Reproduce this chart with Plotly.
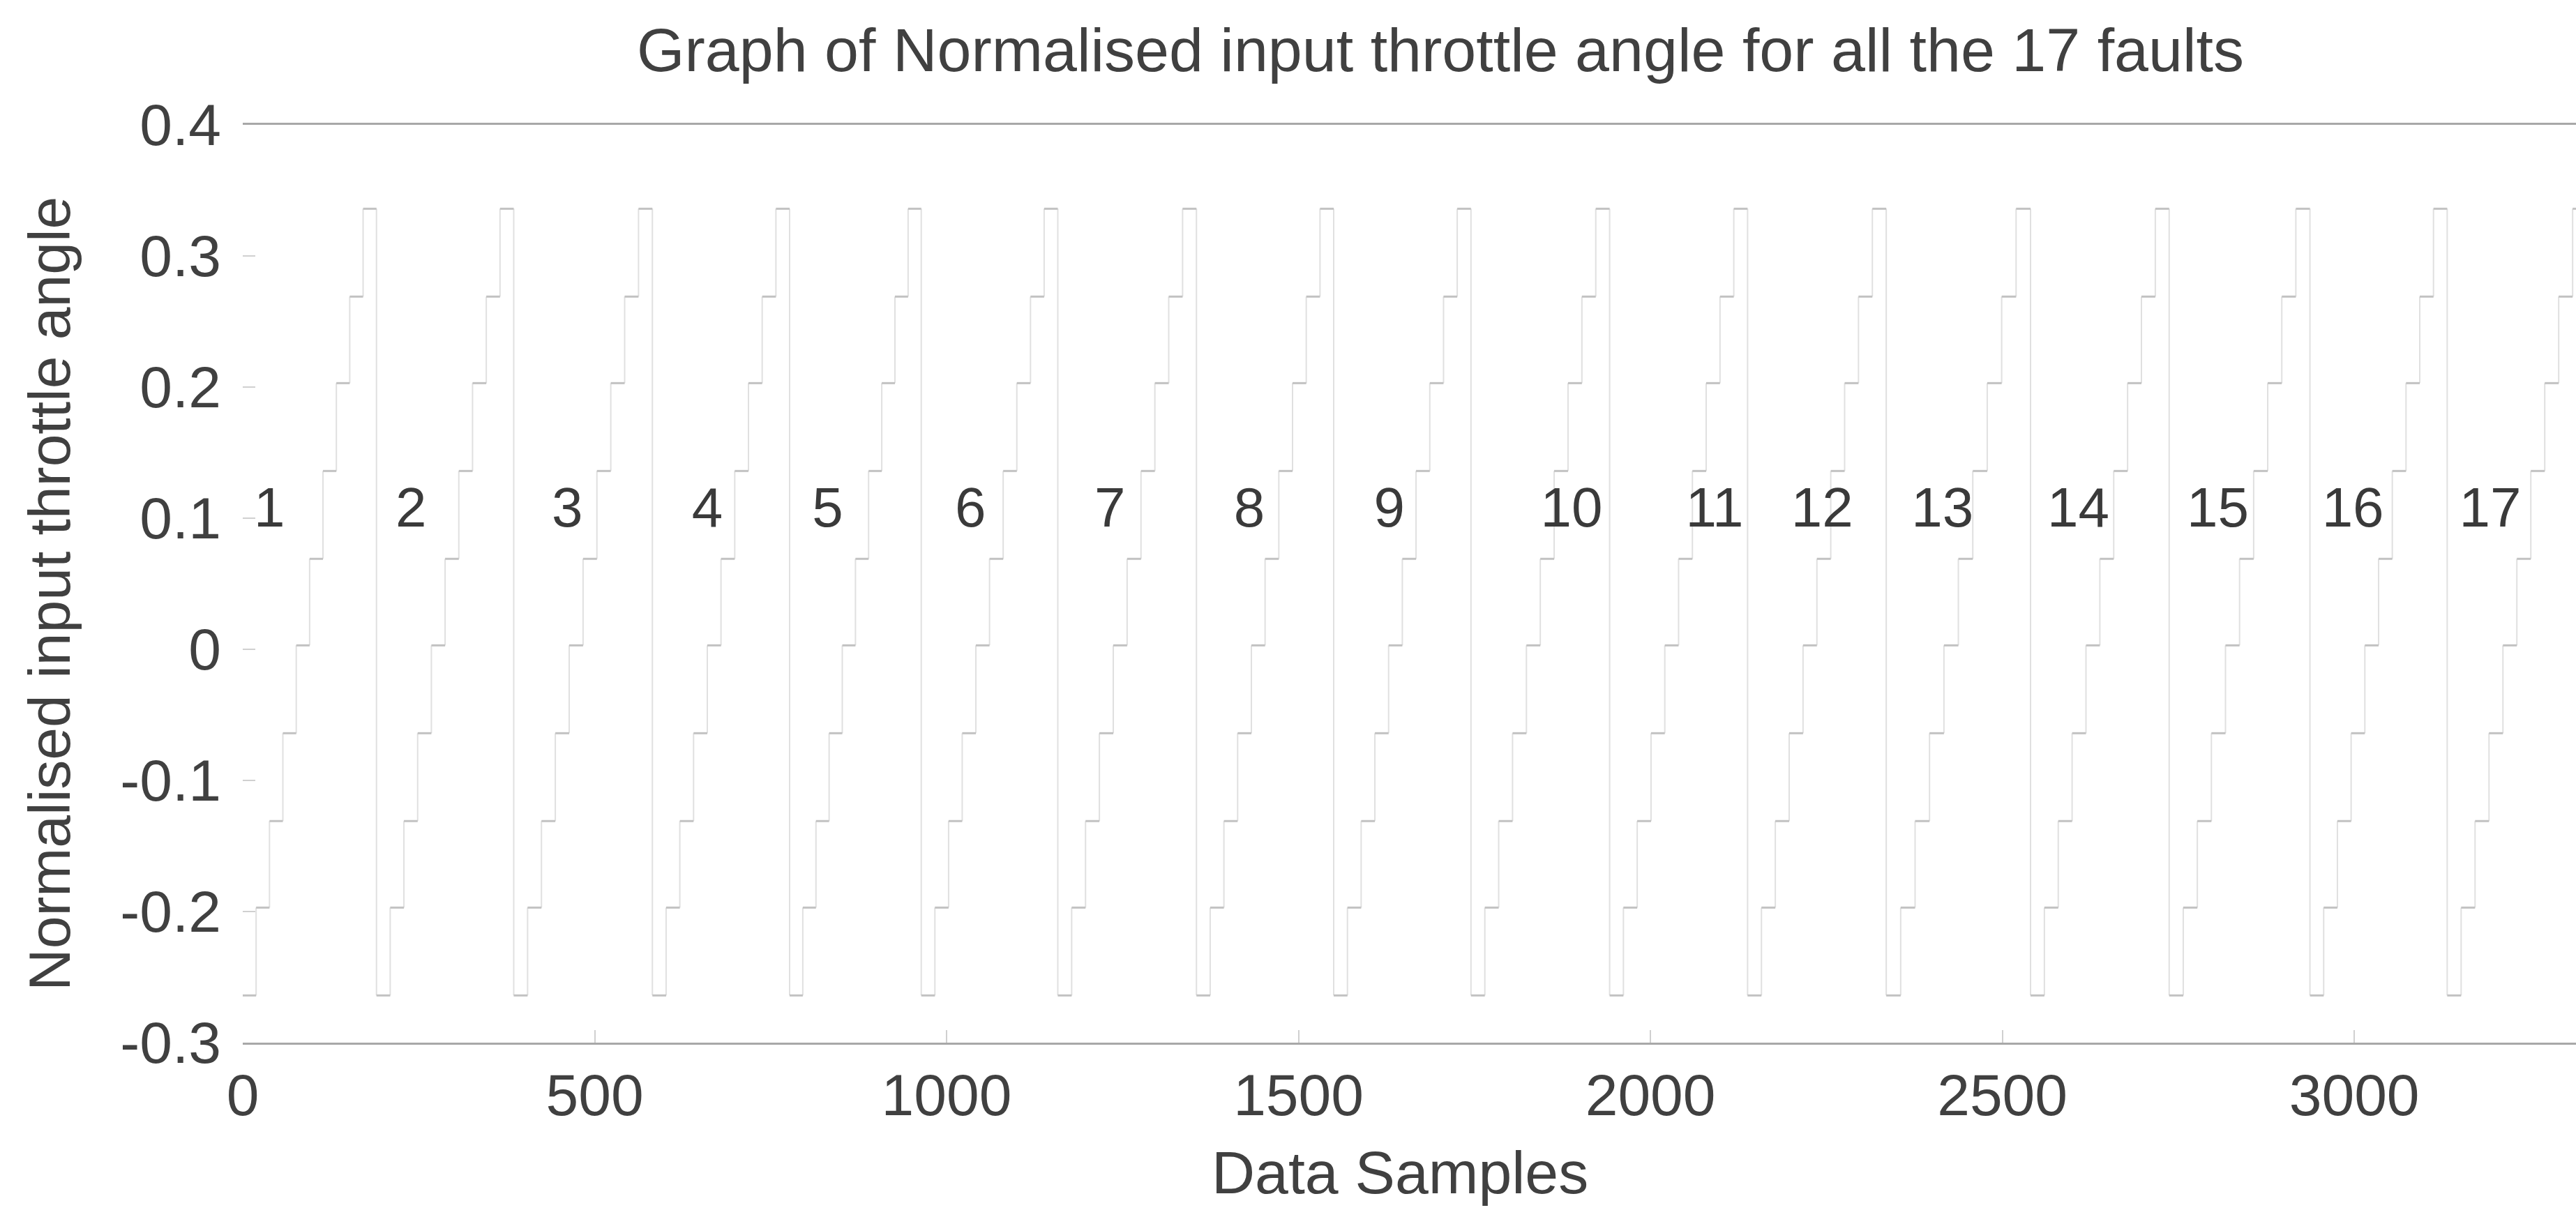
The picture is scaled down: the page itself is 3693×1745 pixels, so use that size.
import plotly.graph_objects as go

# ---- data ----
step_levels = [-0.264, -0.197, -0.131, -0.064, 0.003, 0.069, 0.136, 0.203, 0.269, 0.336]
segment_ends = [190, 385, 582, 777, 964, 1158, 1355, 1550, 1745, 1942,
                2138, 2335, 2540, 2737, 2937, 3132, 3330]
fault_labels = [str(i) for i in range(1, 18)]
label_x = [38, 239, 461, 660, 831, 1034, 1232, 1430, 1629, 1888,
           2091, 2244, 2415, 2608, 2806, 2998, 3193]
label_y = [0.104] * 17
x_tickvals = [0, 500, 1000, 1500, 2000, 2500, 3000]
x_ticktext = ["0", "500", "1000", "1500", "2000", "2500", "3000"]
y_tickvals = [-0.3, -0.2, -0.1, 0, 0.1, 0.2, 0.3, 0.4]
y_ticktext = ["-0.3", "-0.2", "-0.1", "0", "0.1", "0.2", "0.3", "0.4"]

# staircase: each fault segment climbs through the ten levels
hx, hy, vx, vy = [], [], [], []
start = 0
n = len(step_levels)
for end in segment_ends:
    width = (end - start) / n
    for k, lev in enumerate(step_levels):
        x0 = start + k * width
        x1 = start + (k + 1) * width
        hx += [x0, x1, None]
        hy += [lev, lev, None]
        nxt = step_levels[k + 1] if k + 1 < n else step_levels[0]
        vx += [x1, x1, None]
        vy += [lev, nxt, None]
    start = end

FONT = "Arial, Liberation Sans, Helvetica, sans-serif"
W, H = 3693, 1745
L, R, T, B = 348, 0, 179, 250

fig = go.Figure()
fig.add_trace(go.Scatter(
    x=vx, y=vy, mode="lines", line=dict(color="#e0e0e0", width=2),
    hoverinfo="skip", showlegend=False))
fig.add_trace(go.Scatter(
    x=hx, y=hy, mode="lines", line=dict(color="#c2c2c2", width=3),
    hoverinfo="skip", showlegend=False))
fig.add_trace(go.Scatter(
    x=label_x, y=label_y, mode="text", text=fault_labels,
    textfont=dict(family=FONT, size=80, color="#3a3a3a"),
    textposition="middle center", showlegend=False, hoverinfo="skip"))

fig.update_layout(
    width=W, height=H,
    margin=dict(l=L, r=R, t=T, b=B),
    paper_bgcolor="white", plot_bgcolor="white",
    title=dict(text="Graph of Normalised input throttle angle for all the 17 faults",
               x=(2065 - L) / (W - L - R), xref="paper", xanchor="center",
               y=1 - 71 / H, yref="container", yanchor="middle",
               font=dict(family=FONT, size=88, color="#404040")),
    font=dict(family=FONT, color="#404040"),
    xaxis=dict(range=[0, 3315], tickvals=x_tickvals, ticktext=x_ticktext,
               showgrid=False, zeroline=False, showline=True, mirror=True,
               linecolor="#a8a8a8", linewidth=3, ticks="inside", ticklen=18,
               tickcolor="#d0d0d0", tickwidth=2,
               tickfont=dict(family=FONT, size=84, color="#404040")),
    yaxis=dict(range=[-0.3, 0.4], tickvals=y_tickvals, ticktext=y_ticktext,
               showgrid=False, zeroline=False, showline=False,
               ticks="inside", ticklen=18, tickcolor="#d0d0d0", tickwidth=2,
               ticklabelstandoff=30,
               tickfont=dict(family=FONT, size=84, color="#404040")),
    annotations=[
        dict(text="Data Samples", xref="paper", yref="paper",
             x=(2007 - L) / (W - L - R), y=(H - B - 1681) / (H - T - B),
             xanchor="center", yanchor="middle", showarrow=False,
             font=dict(family=FONT, size=86, color="#404040")),
        dict(text="Normalised input throttle angle", xref="paper", yref="paper",
             x=(71 - L) / (W - L - R), y=(H - B - 852) / (H - T - B),
             xanchor="center", yanchor="middle", showarrow=False, textangle=-90,
             font=dict(family=FONT, size=84, color="#404040")),
    ],
)

fig.write_html("out.html")
